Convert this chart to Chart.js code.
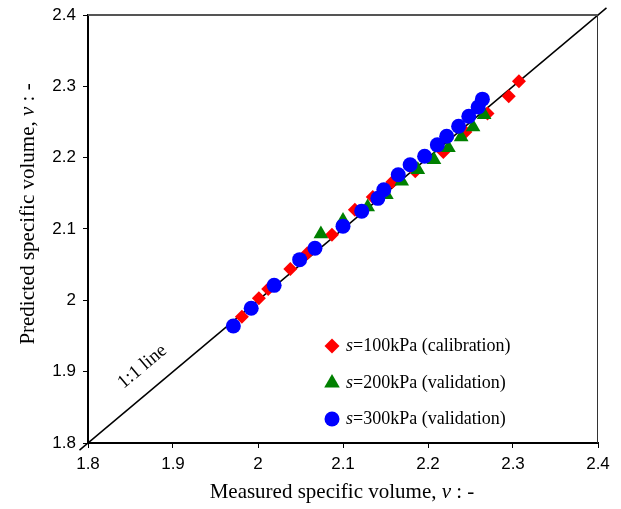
<!DOCTYPE html>
<html>
<head>
<meta charset="utf-8">
<script src="https://cdn.jsdelivr.net/npm/chart.js@4/dist/chart.umd.min.js"></script>
<style>
  html, body { margin: 0; padding: 0; background: #fff; }
  #wrap { width: 621px; height: 509px; }
</style>
</head>
<body>
<div id="wrap"><canvas id="chart" width="621" height="509"></canvas></div>
<script>
// tick values for both axes
const tickValues = [1.8, 1.9, 2.0, 2.1, 2.2, 2.3, 2.4];

// s = 100 kPa (calibration)
const measured100 = [1.981, 2.001, 2.012, 2.038, 2.058, 2.087, 2.114, 2.135, 2.158, 2.185, 2.218, 2.244, 2.270, 2.295, 2.307];
const predicted100 = [1.977, 2.003, 2.016, 2.044, 2.066, 2.092, 2.127, 2.145, 2.166, 2.181, 2.208, 2.236, 2.262, 2.286, 2.307];

// s = 200 kPa (validation)
const measured200 = [2.074, 2.100, 2.129, 2.151, 2.169, 2.188, 2.207, 2.224, 2.239, 2.253, 2.266];
const predicted200 = [2.093, 2.112, 2.131, 2.148, 2.167, 2.183, 2.197, 2.214, 2.229, 2.243, 2.260];

// s = 300 kPa (validation)
const measured300 = [1.971, 1.992, 2.019, 2.049, 2.067, 2.100, 2.122, 2.141, 2.148, 2.165, 2.179, 2.196, 2.211, 2.222, 2.236, 2.248, 2.259, 2.264];
const predicted300 = [1.964, 1.989, 2.021, 2.057, 2.073, 2.104, 2.125, 2.143, 2.155, 2.176, 2.190, 2.202, 2.218, 2.230, 2.244, 2.258, 2.271, 2.282];

// 1:1 line end points
const unityLine = [1.79, 2.41];

const legendItems = [
  { s: 's', rest: '=100kPa (calibration)', style: 'rectRot', color: '#ff0000', r: 7.5 },
  { s: 's', rest: '=200kPa (validation)', style: 'triangle', color: '#008000', r: 9 },
  { s: 's', rest: '=300kPa (validation)', style: 'circle', color: '#0000ff', r: 7.5 }
];

const toPoints = (xs, ys) => xs.map((x, i) => ({ x: x, y: ys[i] }));

const serif = "'Liberation Serif', 'Times New Roman', serif";
const sans = "'Liberation Sans', Arial, sans-serif";

// draw text where some parts are italic
function richText(ctx, parts, x, y, size) {
  let total = 0;
  parts.forEach(p => {
    ctx.font = (p.i ? 'italic ' : '') + size + 'px ' + serif;
    p.w = ctx.measureText(p.t).width;
    total += p.w;
  });
  let cx = x - total / 2;
  ctx.textAlign = 'left';
  parts.forEach(p => {
    ctx.font = (p.i ? 'italic ' : '') + size + 'px ' + serif;
    ctx.fillText(p.t, cx, y);
    cx += p.w;
  });
}

const extras = {
  id: 'extras',
  afterDatasetsDraw(chart) {
    const ctx = chart.ctx;
    const a = chart.chartArea;
    const xs = chart.scales.x, ys = chart.scales.y;
    ctx.save();

    // top and right frame
    ctx.strokeStyle = '#555';
    ctx.lineWidth = 2;
    ctx.beginPath();
    ctx.moveTo(a.left, a.top);
    ctx.lineTo(a.right, a.top);
    ctx.stroke();
    ctx.lineWidth = 1;
    ctx.strokeStyle = '#333';
    ctx.beginPath();
    ctx.moveTo(a.right - 0.5, a.top);
    ctx.lineTo(a.right - 0.5, a.bottom);
    ctx.stroke();

    ctx.fillStyle = '#000';
    ctx.textBaseline = 'middle';

    // axis titles
    richText(ctx, [{ t: 'Measured specific volume, ' }, { t: 'v', i: true }, { t: ' : -' }], 342, 492, 21);
    ctx.save();
    ctx.translate(28, 214);
    ctx.rotate(-Math.PI / 2);
    richText(ctx, [{ t: 'Predicted specific volume, ' }, { t: 'v', i: true }, { t: ' : -' }], 0, 0, 21);
    ctx.restore();

    // 1:1 line label
    ctx.save();
    const lx = xs.getPixelForValue(1.864), ly = ys.getPixelForValue(1.907);
    const ang = Math.atan2(ys.getPixelForValue(2.0) - ys.getPixelForValue(1.9), xs.getPixelForValue(2.0) - xs.getPixelForValue(1.9));
    ctx.translate(lx, ly);
    ctx.rotate(ang);
    richText(ctx, [{ t: '1:1 line' }], 0, 0, 19);
    ctx.restore();

    // legend
    const rowY = [346, 383, 419];
    legendItems.forEach((it, i) => {
      ctx.fillStyle = it.color;
      ctx.beginPath();
      if (it.style === 'circle') {
        ctx.arc(332, rowY[i], it.r, 0, Math.PI * 2);
      } else if (it.style === 'rectRot') {
        ctx.moveTo(332 - it.r, rowY[i]); ctx.lineTo(332, rowY[i] - it.r);
        ctx.lineTo(332 + it.r, rowY[i]); ctx.lineTo(332, rowY[i] + it.r);
      } else {
        ctx.moveTo(332, rowY[i] - it.r);
        ctx.lineTo(332 + it.r * 0.866, rowY[i] + it.r * 0.5);
        ctx.lineTo(332 - it.r * 0.866, rowY[i] + it.r * 0.5);
      }
      ctx.closePath();
      ctx.fill();
      ctx.fillStyle = '#000';
      ctx.textAlign = 'left';
      ctx.font = 'italic 18px ' + serif;
      ctx.fillText(it.s, 346, rowY[i]);
      const w = ctx.measureText(it.s).width;
      ctx.font = '18px ' + serif;
      ctx.fillText(it.rest, 346 + w, rowY[i]);
    });
    ctx.restore();
  }
};

const axisCommon = {
  type: 'linear',
  min: 1.8,
  max: 2.4,
  afterBuildTicks: (s) => { s.ticks = tickValues.map(v => ({ value: v })); },
  grid: { drawOnChartArea: false, drawTicks: true, tickLength: 5, color: '#000', tickWidth: 1 },
  border: { color: '#000', width: 2 },
  ticks: {
    color: '#000',
    font: { family: sans, size: 17 },
    callback: (v) => String(Math.round(v * 10) / 10)
  }
};

new Chart(document.getElementById('chart'), {
  type: 'scatter',
  data: {
    datasets: [
      {
        label: 's=300kPa (validation)',
        data: toPoints(measured300, predicted300),
        pointStyle: 'circle', pointRadius: 7.5, pointBorderWidth: 0,
        backgroundColor: '#0000ff', borderColor: '#0000ff', order: 0
      },
      {
        label: 's=200kPa (validation)',
        data: toPoints(measured200, predicted200),
        pointStyle: 'triangle', pointRadius: 8.5, pointBorderWidth: 0,
        backgroundColor: '#008000', borderColor: '#008000', order: 1
      },
      {
        label: 's=100kPa (calibration)',
        data: toPoints(measured100, predicted100),
        pointStyle: 'rectRot', pointRadius: 7, pointBorderWidth: 0,
        backgroundColor: '#ff0000', borderColor: '#ff0000', order: 2
      },
      {
        label: '1:1 line',
        data: toPoints(unityLine, unityLine),
        showLine: true, pointRadius: 0, borderColor: '#000', borderWidth: 1.5,
        clip: false, order: 3
      }
    ]
  },
  options: {
    responsive: false,
    animation: false,
    layout: { padding: { left: 0, top: 15, right: 23, bottom: 0 } },
    plugins: { legend: { display: false }, tooltip: { enabled: false } },
    scales: {
      x: Object.assign({}, axisCommon, {
        position: 'bottom',
        ticks: Object.assign({}, axisCommon.ticks, { padding: 6, maxRotation: 0 }),
        afterFit: (s) => { s.height = 66; s.paddingLeft = 0; s.paddingRight = 0; }
      }),
      y: Object.assign({}, axisCommon, {
        position: 'left',
        ticks: Object.assign({}, axisCommon.ticks, { padding: 7 }),
        afterFit: (s) => { s.width = 88; s.paddingTop = 0; s.paddingBottom = 0; }
      })
    }
  },
  plugins: [extras]
});
</script>
</body>
</html>
